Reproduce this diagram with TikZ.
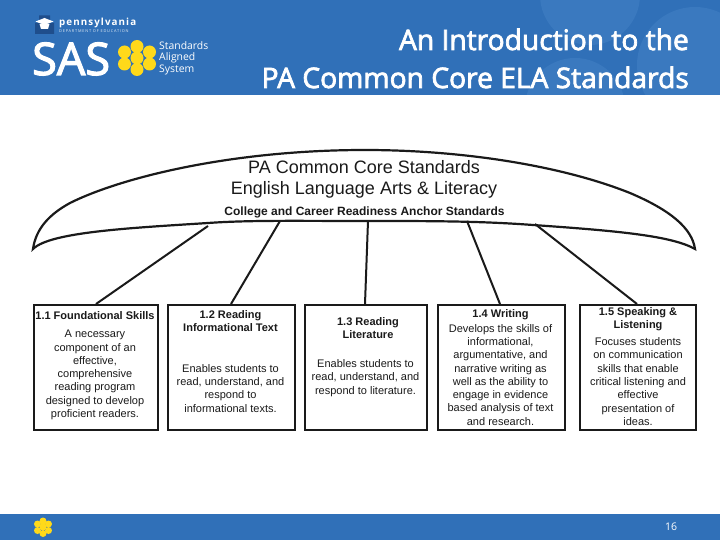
\documentclass[tikz,border=0pt]{standalone}
\usepackage{fontspec}
\setmainfont{Liberation Sans}
\newfontfamily\titlefont[FakeBold=2.6]{Open Sans}
\newfontfamily\logofont{Open Sans}
\newfontfamily\spacedfont[LetterSpace=11]{Open Sans Bold}
\newfontfamily\deptfont[LetterSpace=20]{Open Sans}
\definecolor{sasblue}{HTML}{3070B8}
\definecolor{sasglow}{HTML}{3A79BF}
\definecolor{sasyellow}{HTML}{FFD91A}
\definecolor{keyblue}{HTML}{1F4E8C}
\definecolor{inkk}{HTML}{1A1A1A}
\tikzset{
  stdbox/.style={draw=inkk,line width=2pt,fill=white,inner sep=0pt,minimum width=#1,minimum height=125pt,anchor=north west},
  link/.style={draw=inkk,line width=2pt},
  bodytxt/.style={align=center,font=\fontsize{11}{13.3}\selectfont,text=inkk,anchor=north,inner sep=0pt},
  headtxt/.style={align=center,font=\fontsize{11}{13}\selectfont\bfseries,text=inkk,anchor=north,inner sep=0pt},
  titletxt/.style={font=\titlefont\fontsize{28.2}{30}\selectfont,text=white,anchor=base east,inner sep=0pt},
  petal/.style={fill=sasyellow,draw=none}
}
\begin{document}
\begin{tikzpicture}[x=1pt,y=-1pt]
\useasboundingbox (0,0) rectangle (720,540);
\fill[white] (0,0) rectangle (720,540);
% header
\fill[sasblue] (0,0) rectangle (720,95);
\begin{scope}
\clip (0,0) rectangle (720,95);
\fill[sasglow] (590,-5) circle (50);
\fill[sasglow] (695,65) circle (58);
\fill[sasglow] (575,108) circle (50);
\end{scope}
% footer
\fill[sasblue] (0,514) rectangle (720,540);
% logo
\fill[keyblue] (35,34) -- (35,23) -- (39,23) -- (39,15.5) -- (50,15.5) -- (50,23) -- (54,23) -- (54,34) -- cycle;
\fill[white] (35.5,21.5) -- (44.5,18) -- (53.5,21.5) -- (44.5,25) -- cycle;
\fill[white] (39.5,24) -- (49.5,24) -- (48,29) -- (41,29) -- cycle;
\node[font=\spacedfont\fontsize{9.8}{10}\selectfont,text=white,anchor=base west,inner sep=0pt] (papa) at (59,25.5) {pennsylvania};
\node[font=\deptfont\fontsize{3.9}{4}\selectfont,text=white!85!sasblue,anchor=base west,inner sep=0pt] (padept) at (59,33) {DEPARTMENT OF EDUCATION};
\node[font=\titlefont\fontsize{45}{45}\selectfont,text=white,anchor=base west,inner sep=0pt] (sas) at (32,75) {SAS};
\foreach \px/\py in {137/58,137/46.5,137/69.5,124.5/52,149.5/52,124.5/64,149.5/64}
  \fill[petal] (\px,\py) circle (6.5);
\node[font=\logofont\fontsize{10.4}{11.6}\selectfont,text=white,align=left,anchor=north west,inner sep=0pt] (sastxt) at (159,41) {Standards\\Aligned\\System};
% title
\node[titletxt] (t1) at (689,50) {An Introduction to the};
\node[titletxt] (t2) at (689,88) {PA Common Core ELA Standards};
% footer flower and number
\foreach \px/\py in {43/527,43/521,43/533.5,37.5/524,48.5/524,37.5/530.5,48.5/530.5}
  \fill[petal] (\px,\py) circle (3.5);
\node[font=\logofont\fontsize{10.5}{11}\selectfont,text=white,inner sep=0pt] (pg) at (671,527) {16};
% canoe
\draw[draw=inkk,line width=2.2pt,fill=white,line join=miter]
  (33,249) .. controls (36,228) and (50,214) .. (70,203)
  .. controls (120,178) and (230,150) .. (365,150)
  .. controls (460,150) and (560,165) .. (630,193)
  .. controls (670,210) and (692,228) .. (695,249)
  .. controls (672,236) and (620,231) .. (533,225)
  .. controls (480,221) and (430,221) .. (365,221)
  .. controls (300,221) and (250,220) .. (208,223)
  .. controls (130,228) and (50,232) .. (33,249) -- cycle;
\node[font=\fontsize{18}{21}\selectfont,text=inkk,align=center,inner sep=0pt,anchor=north] (head) at (364,160) {PA Common Core Standards\\English Language Arts \& Literacy};
\node[font=\fontsize{12}{12}\selectfont\bfseries,text=inkk,inner sep=0pt] (anchor) at (364.5,212.5) {College and Career Readiness Anchor Standards};
% canoe attachment points
\coordinate (c1) at (208,226);
\coordinate (c2) at (280,221);
\coordinate (c3) at (368,221);
\coordinate (c4) at (467,221);
\coordinate (c5) at (535,224);
% boxes
\node[stdbox=124pt] (b1) at (33,304) {};
\node[stdbox=127pt] (b2) at (167,304) {};
\node[stdbox=122pt] (b3) at (304,304) {};
\node[stdbox=127pt] (b4) at (437,304) {};
\node[stdbox=116pt] (b5) at (579,304) {};
% connectors
\coordinate (p1) at (96,304);
\coordinate (p2) at (231,304);
\coordinate (p3) at (365,304);
\coordinate (p4) at (500,304);
\coordinate (p5) at (637,304);
\draw[link] (c1) -- (p1);
\draw[link] (c2) -- (p2);
\draw[link] (c3) -- (p3);
\draw[link] (c4) -- (p4);
\draw[link] (c5) -- (p5);
% box text
\node[headtxt] (h1) at (95,311) {1.1 Foundational Skills};
\node[bodytxt] (d1) at (95,330) {A necessary\\component of an\\effective,\\comprehensive\\reading program\\designed to develop\\proficient readers.};
\node[headtxt] (h2) at (230.5,310.5) {1.2 Reading\\Informational Text};
\node[bodytxt] (d2) at (230.5,364) {Enables students to\\read, understand, and\\respond to\\informational texts.};
\node[headtxt] (h3) at (368,317.5) {1.3 Reading\\Literature};
\node[bodytxt] (d3) at (365.5,359.5) {Enables students to\\read, understand, and\\respond to literature.};
\node[headtxt] (h4) at (500.5,309) {1.4 Writing};
\node[bodytxt] (d4) at (500.5,324) {Develops the skills of\\informational,\\argumentative, and\\narrative writing as\\well as the ability to\\engage in evidence\\based analysis of text\\and research.};
\node[headtxt] (h5) at (638,307.5) {1.5 Speaking \&\\Listening};
\node[bodytxt] (d5) at (638,337.5) {Focuses students\\on communication\\skills that enable\\critical listening and\\effective\\presentation of\\ideas.};
\end{tikzpicture}
\end{document}
